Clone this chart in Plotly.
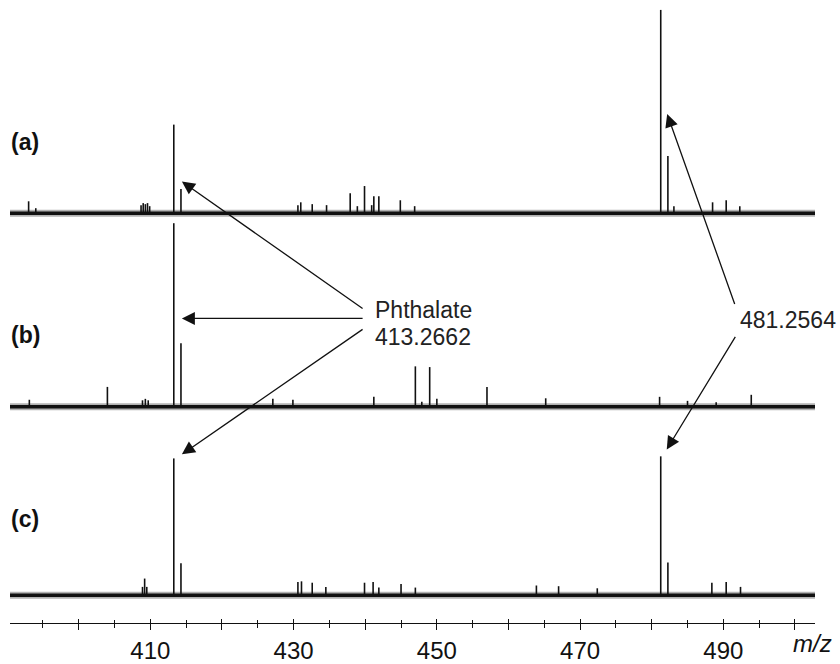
import plotly.graph_objects as go

# ---- data: m/z of peaks and relative intensity (% of base peak in each spectrum)
mz_a = [393.0, 394.0, 408.7, 409.0, 409.3, 409.6, 409.9, 413.27, 414.27, 430.6, 431.0,
        432.6, 434.6, 437.9, 438.9, 439.9, 440.9, 441.2, 441.9, 444.9, 446.9,
        481.26, 482.26, 483.1, 488.5, 490.4, 492.3]
int_a = [5.9, 2.5, 4.0, 5.0, 4.5, 5.0, 3.5, 43.6, 11.9, 4.0, 5.4,
         4.5, 4.0, 9.9, 3.5, 13.4, 4.0, 8.4, 8.4, 6.4, 3.5,
         100, 28.2, 3.5, 5.4, 6.4, 3.5]

mz_b = [393.1, 404.0, 408.9, 409.3, 409.7, 413.27, 414.27, 427.1, 429.9, 441.2, 447.0,
        447.9, 449.0, 450.0, 457.0, 465.2, 481.1, 485.0, 489.0, 493.9]
int_b = [3.8, 10.8, 3.5, 4.3, 3.5, 100, 34.6, 4.3, 3.8, 5.4, 22.0,
         2.7, 21.6, 4.3, 10.8, 4.6, 5.4, 3.2, 2.4, 6.5]

mz_c = [408.9, 409.2, 409.5, 413.27, 414.27, 430.6, 431.1, 432.6, 434.5, 439.9, 441.1,
        441.9, 445.0, 447.0, 463.9, 467.0, 472.4, 481.26, 482.26, 488.4, 490.4, 492.4]
int_c = [6.0, 12.0, 6.0, 98.5, 23.0, 9.5, 10.0, 9.0, 6.0, 9.0, 9.5,
         5.5, 8.0, 5.5, 7.0, 6.5, 5.0, 100, 23.5, 9.0, 9.5, 6.0]

spectra_labels = ["(a)", "(b)", "(c)"]
tick_vals = [400, 410, 420, 430, 440, 450, 460, 470, 480, 490, 500]
tick_text = ["", "410", "", "430", "", "450", "", "470", "", "490", ""]
minor_vals = [395, 405, 415, 425, 435, 445, 455, 465, 475, 485, 495]

# ---- layout constants (stacking offsets / scales, not data)
X_MIN, X_MAX = 390.4, 502.8
Y_MAX = 628
offsets = [413, 218, 28]
scales = [2.05, 1.85, 1.40]

fig = go.Figure()


def sticks(mz, inten, base, scale):
    xs, ys = [], []
    for m, v in zip(mz, inten):
        xs += [m, m, None]
        ys += [base, base + v * scale, None]
    return xs, ys


for mz, inten, base, sc in zip([mz_a, mz_b, mz_c], [int_a, int_b, int_c], offsets, scales):
    # noise band of the baseline
    fig.add_trace(go.Scatter(x=[X_MIN, X_MAX], y=[base, base], mode="lines",
                             line=dict(color="rgba(0,0,0,0.3)", width=7),
                             hoverinfo="skip", showlegend=False))
    fig.add_trace(go.Scatter(x=[X_MIN, X_MAX], y=[base, base], mode="lines",
                             line=dict(color="#111111", width=3.5),
                             hoverinfo="skip", showlegend=False))
    xs, ys = sticks(mz, inten, base, sc)
    fig.add_trace(go.Scatter(x=xs, y=ys, mode="lines",
                             line=dict(color="#111111", width=1.6),
                             showlegend=False))

# secondary overlay axis for ticks that cross the axis line
fig.add_trace(go.Scatter(x=[X_MIN], y=[-10], xaxis="x2", mode="markers",
                         marker=dict(opacity=0), showlegend=False, hoverinfo="skip"))

W, H = 840, 664
ml, mr, mt, mb = 10, 25, 0, 36


def px(xp):
    return (xp - ml) / (W - ml - mr)


def py(yp):
    return (Y_MAX - yp) / Y_MAX


annotations = []
# arrows (tip, tail) in data coordinates
arrows = [
    ((414.4, 445), (439.84, 316)),
    ((414.4, 307), (439.84, 307)),
    ((414.4, 170), (439.84, 297)),
    ((482.16, 513), (491.66, 320)),
    ((482.1, 175), (491.8, 290)),
]
for (tx, ty), (ax, ay) in arrows:
    annotations.append(dict(x=tx, y=ty, ax=ax, ay=ay, xref="x", yref="y",
                            axref="x", ayref="y", text="", showarrow=True,
                            arrowhead=2, arrowsize=2.0, arrowwidth=1.3,
                            arrowcolor="#111111", standoff=0, startstandoff=0))

txt_font = dict(family="Liberation Sans, Arial, sans-serif", size=23, color="#222222")
annotations += [
    dict(x=px(373), y=py(312), xref="paper", yref="paper", text="Phthalate",
         showarrow=False, xanchor="left", yanchor="middle", font=txt_font),
    dict(x=px(373), y=py(340), xref="paper", yref="paper", text="413.2662",
         showarrow=False, xanchor="left", yanchor="middle", font=txt_font),
    dict(x=px(738), y=py(323), xref="paper", yref="paper", text="481.2564",
         showarrow=False, xanchor="left", yanchor="middle", font=txt_font),
]
lab_font = dict(family="Liberation Sans, Arial, sans-serif", size=23, color="#111111")
for lab, yp in zip(spectra_labels, [143, 338, 523]):
    annotations.append(dict(x=px(9), y=py(yp), xref="paper", yref="paper",
                            text="<b>" + lab + "</b>", showarrow=False,
                            xanchor="left", yanchor="middle", font=lab_font))
annotations.append(dict(x=px(812), y=py(649), xref="paper", yref="paper",
                        text="<i>m/z</i>", showarrow=False, xanchor="center",
                        yanchor="middle",
                        font=dict(family="Liberation Sans, Arial, sans-serif",
                                  size=24, color="#111111")))

tick_font = dict(family="Liberation Sans, Arial, sans-serif", size=24, color="#111111")

fig.update_layout(
    width=W, height=H,
    margin=dict(l=ml, r=mr, t=mt, b=mb),
    paper_bgcolor="white", plot_bgcolor="white",
    showlegend=False,
    xaxis=dict(range=[X_MIN, X_MAX], showgrid=False, zeroline=False,
               showline=True, linecolor="#111111", linewidth=1.2,
               ticks="outside", ticklen=6, tickwidth=1.2, tickcolor="#111111",
               tickvals=tick_vals, ticktext=tick_text, tickfont=tick_font,
               minor=dict(tickvals=minor_vals, ticks="outside", ticklen=4,
                          tickwidth=1, tickcolor="#111111"),
               fixedrange=True),
    xaxis2=dict(range=[X_MIN, X_MAX], overlaying="x", anchor="y", side="bottom",
                showgrid=False, zeroline=False, showline=False,
                ticks="inside", ticklen=4, tickwidth=1.2, tickcolor="#111111",
                tickvals=tick_vals, showticklabels=False,
                minor=dict(tickvals=minor_vals, ticks="inside", ticklen=3,
                           tickwidth=1, tickcolor="#111111")),
    yaxis=dict(range=[0, Y_MAX], visible=False, fixedrange=True),
    annotations=annotations,
)

fig.write_html("out.html", config={"displayModeBar": False},
               post_script="document.body.style.margin='0px';")
